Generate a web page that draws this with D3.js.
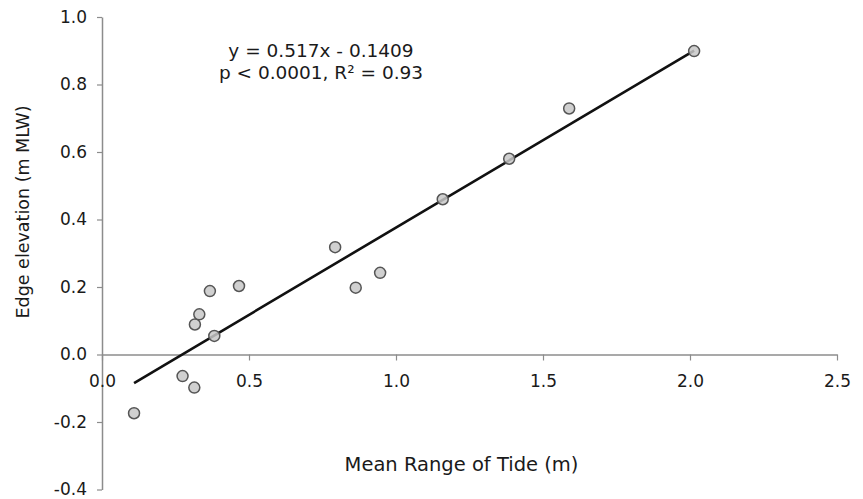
<!DOCTYPE html>
<html>
<head>
<meta charset="utf-8">
<script src="https://cdn.jsdelivr.net/npm/d3@7"></script>
<style>
  body { margin: 0; background: #fff; }
  svg { display: block; font-family: "DejaVu Sans", Verdana, sans-serif; }
</style>
</head>
<body>
<div id="visualization"></div>
<script>

// tide range (m) vs marsh edge elevation (m MLW)
let tideRange = [0.109, 0.274, 0.314, 0.316, 0.331, 0.367, 0.382, 0.466, 0.793, 0.863, 0.946, 1.159, 1.385, 1.589, 2.014];
let edgeElev = [-0.174, -0.064, -0.098, 0.089, 0.119, 0.188, 0.055, 0.203, 0.318, 0.198, 0.242, 0.460, 0.580, 0.729, 0.899];

let xTicks = [0, 0.5, 1.0, 1.5, 2.0, 2.5];
let yTicks = [-0.4, -0.2, 0, 0.2, 0.4, 0.6, 0.8, 1.0];

// fit line
let slope = 0.517;
let intercept = -0.1409;
let eqLines = ["y = 0.517x - 0.1409", "p < 0.0001, R\u00B2 = 0.93"];

let xTitle = "Mean Range of Tide (m)";
let yTitle = "Edge elevation (m MLW)";

function main() {

  // set the margin of the svg
  var margin = { top: 17, right: 26, bottom: 9.5, left: 102 };
  var width = 863 - margin.left - margin.right;
  var height = 499 - margin.top - margin.bottom;

  var svg = d3.select("#visualization").append("svg")
    .attr("width", 863)
    .attr("height", 499)
    .append("g")
    .attr("transform", "translate(" + margin.left + ", " + margin.top + ")");

  // set the ranges
  var x = d3.scaleLinear().domain([0, 2.5]).range([0, width]);
  var y = d3.scaleLinear().domain([-0.4, 1.0]).range([height, 0]);

  var fmt = function (d) { return d.toFixed(1); };

  // y axis
  var yAxis = svg.append("g")
    .call(d3.axisLeft(y).tickValues(yTicks).tickFormat(fmt).tickSize(5).tickSizeOuter(0).tickPadding(10));

  // x axis sits on the zero line
  var xAxis = svg.append("g")
    .attr("transform", "translate(0," + y(0) + ")")
    .call(d3.axisBottom(x).tickValues(xTicks).tickFormat(fmt).tickSize(6).tickSizeOuter(0));

  xAxis.selectAll(".tick text").attr("y", 27).attr("dy", "0.35em");

  [xAxis, yAxis].forEach(function (ax) {
    ax.select(".domain").attr("stroke", "#8c8c8c").attr("stroke-width", 1.5);
    ax.selectAll(".tick line").attr("stroke", "#8c8c8c").attr("stroke-width", 1.2);
    ax.selectAll(".tick text")
      .attr("fill", "#1a1a1a")
      .style("font-size", "17px")
      .style("font-family", "\"DejaVu Sans\", Verdana, sans-serif");
  });

  // regression line across the observed range
  var xMin = d3.min(tideRange);
  var xMax = d3.max(tideRange);
  svg.append("line")
    .attr("x1", x(xMin))
    .attr("y1", y(slope * xMin + intercept))
    .attr("x2", x(xMax))
    .attr("y2", y(slope * xMax + intercept))
    .attr("stroke", "#111")
    .attr("stroke-width", 2.6);

  // points
  var points = tideRange.map(function (v, i) { return { tide: v, elev: edgeElev[i] }; });
  svg.selectAll(".dot")
    .data(points)
    .enter().append("circle")
    .attr("class", "dot")
    .attr("cx", function (d) { return x(d.tide); })
    .attr("cy", function (d) { return y(d.elev); })
    .attr("r", 5.5)
    .attr("fill", "#c8c8c8")
    .attr("fill-opacity", 0.85)
    .attr("stroke", "#555")
    .attr("stroke-width", 1.5);

  // equation
  svg.append("g").selectAll("text")
    .data(eqLines)
    .enter().append("text")
    .attr("x", 219)
    .attr("y", function (d, i) { return 33.5 + i * 22; })
    .attr("dy", "0.35em")
    .attr("text-anchor", "middle")
    .attr("fill", "#1a1a1a")
    .style("font-size", "18.5px")
    .text(function (d) { return d; });

  // axis titles
  svg.append("text")
    .attr("x", 359.5)
    .attr("y", y(0) + 110)
    .attr("dy", "0.35em")
    .attr("text-anchor", "middle")
    .attr("fill", "#1a1a1a")
    .style("font-size", "19.5px")
    .text(xTitle);

  svg.append("text")
    .attr("transform", "translate(" + (23 - margin.left) + "," + (212 - margin.top) + ") rotate(-90)")
    .attr("dy", "0.35em")
    .attr("text-anchor", "middle")
    .attr("fill", "#1a1a1a")
    .style("font-size", "17.5px")
    .text(yTitle);
}

main();
</script>
</body>
</html>
